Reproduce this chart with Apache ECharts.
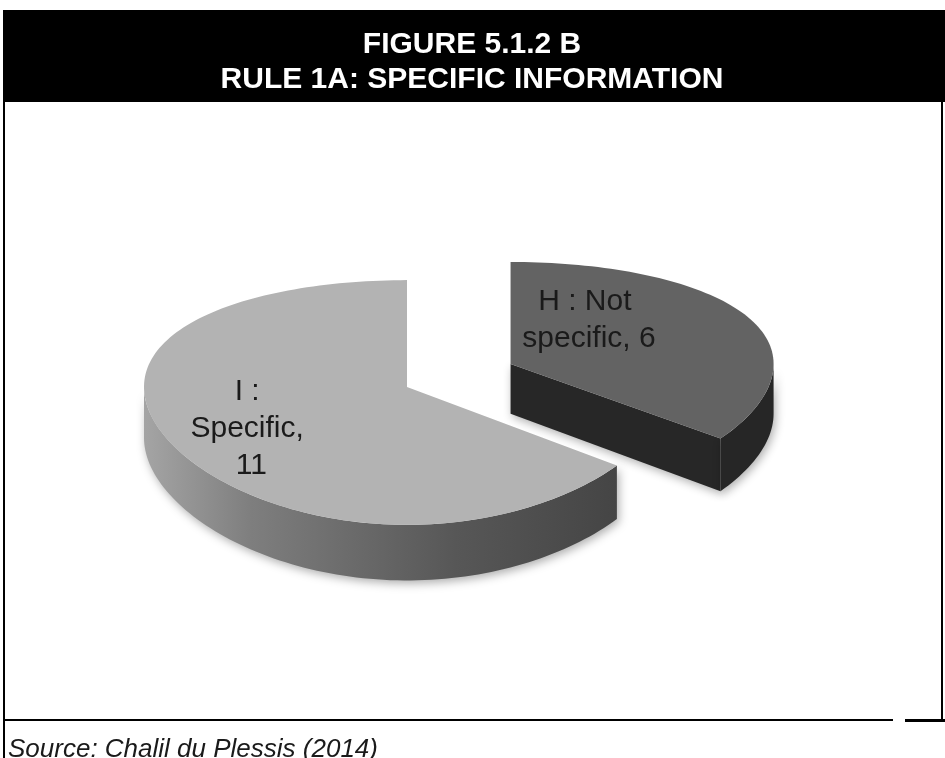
<!DOCTYPE html>
<html>
<head>
<meta charset="utf-8">
<script src="https://cdn.jsdelivr.net/npm/echarts@6/dist/echarts.min.js"></script>
<style>
  html, body { margin: 0; padding: 0; background: #ffffff; }
  #chart { width: 945px; height: 758px; }
</style>
</head>
<body>
<div id="chart"></div>
<script>
// ---- chart content ----
const sliceNames = ['H : Not specific', 'I : Specific'];
const sliceValues = [6, 11];
const titleLines = ['FIGURE 5.1.2 B', 'RULE 1A: SPECIFIC INFORMATION'];
const sourceNote = 'Source: Chalil du Plessis (2014)';

// ---- 3D pie projection (tilted disc, mild vertical perspective) ----
const DEG = Math.PI / 180;
const CX = 407;          // screen x of the pie axis
const BY = 437.66;       // screen y of the disc base centre
const AX = 263;          // horizontal radius in px
const AY = 267;          // vertical scale in px
const QY = 0.1266;       // perspective depth factor
const SD = 0.0684;
const COS_T = 0.88, SIN_T = 0.475;   // view elevation
const THICK = 0.2156;    // disc thickness (radius units)
const CAM_Z = -1 / QY;
const EXPLODE = [0.44, 0];

function proj(X, Y, Z) {
  const w = 1 + QY * Z - (Y - THICK) * SD;
  return [CX + AX * X, BY - AY * (Y * COS_T + Z * SIN_T) / w];
}

function arcPoints(ox, oz, Y, a0, a1) {
  const pts = [];
  const n = Math.max(2, Math.ceil(Math.abs(a1 - a0) / 1.5));
  for (let k = 0; k <= n; k++) {
    const a = (a0 + (a1 - a0) * k / n) * DEG;
    pts.push(proj(ox + Math.cos(a), Y, oz + Math.sin(a)));
  }
  return pts;
}

// parts of [a, b] (degrees) on the near half of the disc
function nearParts(a, b) {
  const out = [];
  for (let k = Math.floor(a / 360) - 1; k <= Math.ceil(b / 360) + 1; k++) {
    const s = Math.max(a, k * 360 - 180), e = Math.min(b, k * 360);
    if (e > s) out.push([s, e]);
  }
  return out;
}

const sideShadow = { shadowBlur: 10, shadowColor: 'rgba(0,0,0,0.32)', shadowOffsetX: 2, shadowOffsetY: 3 };

const sliceLook = [
  { top: '#636363', wall: '#262626', face: '#272727', labelFrac: 0.288, labelR: 0.5, wrap: 150 },
  { top: '#b3b3b3',
    wall: new echarts.graphic.LinearGradient(140, 0, 625, 0, [
      { offset: 0, color: '#a6a6a6' },
      { offset: 0.23, color: '#7e7e7e' },
      { offset: 0.65, color: '#575757' },
      { offset: 1, color: '#444444' }
    ], true),
    face: '#8c8c8c', labelFrac: 0.487, labelR: 0.68, wrap: 125 }
];

function renderSlice(params, api) {
  const i = params.dataIndex;
  const total = sliceValues.reduce((s, v) => s + v, 0);
  let before = 0;
  for (let k = 0; k < i; k++) before += sliceValues[k];
  const v = api.value(0);
  // clockwise from 12 o'clock
  const start = 90 - 360 * before / total;
  const end = start - 360 * v / total;
  const mid = (start + end) / 2 * DEG;
  const ox = EXPLODE[i] * Math.cos(mid), oz = EXPLODE[i] * Math.sin(mid);
  const look = sliceLook[i];
  const children = [];

  // flat cut faces that turn toward the viewer
  [[start, start + 90], [end, end - 90]].forEach(([a, nA]) => {
    const ca = Math.cos(a * DEG), sa = Math.sin(a * DEG);
    const mx = ox + ca / 2, mz = oz + sa / 2;
    const dot = Math.cos(nA * DEG) * (0 - mx) + Math.sin(nA * DEG) * (CAM_Z - mz);
    if (dot > 1e-6) {
      children.push({
        type: 'polygon',
        shape: { points: [
          proj(ox, THICK, oz), proj(ox + ca, THICK, oz + sa),
          proj(ox + ca, 0, oz + sa), proj(ox, 0, oz)
        ] },
        style: Object.assign({ fill: look.face }, sideShadow)
      });
    }
  });

  // curved outer wall on the near half
  nearParts(end, start).forEach(([s, e]) => {
    const topArc = arcPoints(ox, oz, THICK, s, e);
    const botArc = arcPoints(ox, oz, 0, e, s);
    children.push({
      type: 'polygon',
      shape: { points: topArc.concat(botArc) },
      style: Object.assign({ fill: look.wall }, sideShadow)
    });
  });

  // top face
  children.push({
    type: 'polygon',
    shape: { points: [proj(ox, THICK, oz)].concat(arcPoints(ox, oz, THICK, end, start)) },
    style: { fill: look.top }
  });

  // data label on the top face
  const la = (start - (start - end) * look.labelFrac) * DEG;
  const lp = proj(ox + look.labelR * Math.cos(la), THICK, oz + look.labelR * Math.sin(la));
  children.push({
    type: 'text',
    style: {
      text: sliceNames[i] + ', ' + v,
      x: lp[0], y: lp[1],
      width: look.wrap, overflow: 'break',
      font: '30px "Liberation Sans", Arial, sans-serif',
      lineHeight: 37,
      fill: '#1a1a1a',
      align: 'center', verticalAlign: 'middle',
      textAlign: 'center', textVerticalAlign: 'middle'
    }
  });

  return { type: 'group', children };
}

const chart = echarts.init(document.getElementById('chart'), null, { renderer: 'canvas' });

const headerFont = 'bold 30px "Liberation Sans", Arial, sans-serif';

chart.setOption({
  backgroundColor: '#ffffff',
  animation: false,
  graphic: [
    { type: 'rect', shape: { x: 3, y: 10, width: 942, height: 92 }, style: { fill: '#000000' } },
    { type: 'text', style: {
        text: titleLines[0], x: 472, y: 45, font: headerFont, fill: '#ffffff',
        align: 'center', verticalAlign: 'middle', textAlign: 'center', textVerticalAlign: 'middle' } },
    { type: 'text', style: {
        text: titleLines[1], x: 472, y: 80, font: headerFont, fill: '#ffffff',
        align: 'center', verticalAlign: 'middle', textAlign: 'center', textVerticalAlign: 'middle' } },
    // frame
    { type: 'rect', shape: { x: 3, y: 102, width: 2, height: 656 }, style: { fill: '#000000' } },
    { type: 'rect', shape: { x: 941, y: 102, width: 2, height: 618 }, style: { fill: '#000000' } },
    { type: 'rect', shape: { x: 3, y: 719, width: 890, height: 2 }, style: { fill: '#000000' } },
    { type: 'rect', shape: { x: 905, y: 719, width: 40, height: 3 }, style: { fill: '#000000' } },
    { type: 'text', style: {
        text: sourceNote, x: 8, y: 750,
        font: 'italic 26px "Liberation Sans", Arial, sans-serif', fill: '#1a1a1a',
        align: 'left', verticalAlign: 'middle', textAlign: 'left', textVerticalAlign: 'middle' } }
  ],
  series: [{
    type: 'custom',
    coordinateSystem: 'none',
    renderItem: renderSlice,
    data: sliceNames.map((n, i) => ({ name: n, value: sliceValues[i] }))
  }]
});
</script>
</body>
</html>
